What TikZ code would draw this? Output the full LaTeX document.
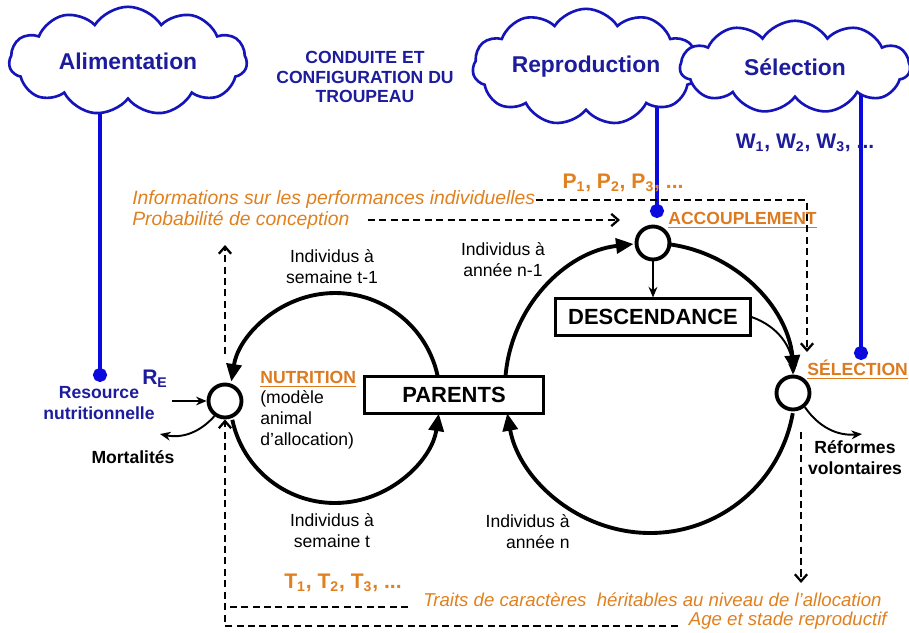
\documentclass[tikz,border=0pt]{standalone}
\usepackage{fontspec}
\setmainfont{Liberation Sans}
\usepackage{tikz}
\usetikzlibrary{arrows.meta,positioning,calc,shapes.symbols,backgrounds}
\definecolor{HerdBlue}{HTML}{1C1C9C}
\definecolor{CloudEdge}{HTML}{1414B8}
\definecolor{LinkBlue}{HTML}{0A0ADE}
\definecolor{InfoOrange}{HTML}{E0801E}
\definecolor{StageOrange}{HTML}{DC7A20}

\begin{document}
\begin{tikzpicture}[x=0.02cm, y=-0.02cm,
  cloudbox/.style={cloud, cloud puffs=11, cloud puff arc=115, aspect=2.4,
                   draw=CloudEdge, line width=1.5pt, fill=white, text=HerdBlue,
                   font=\fontsize{13}{15}\selectfont\bfseries,
                   minimum width=#1, minimum height=1.85cm, inner sep=0pt},
  hub/.style={draw, circle, line width=2.2pt, minimum size=0.66cm, inner sep=0pt, fill=white},
  stock/.style={draw, line width=1.2pt, font=\fontsize{12.5}{14}\selectfont\bfseries,
                minimum height=0.74cm, inner sep=0pt},
  loopflow/.style={line width=2.2pt, -{Triangle[length=10pt,width=8.5pt]}},
  flow/.style={line width=1.1pt, -{Stealth[length=6pt,width=5pt]}},
  info/.style={line width=1.3pt, dash pattern=on 4pt off 2.5pt},
  infoarr/.style={info, -{Straight Barb[length=4pt,width=7pt]}},
  link/.style={draw=LinkBlue, line width=1.8pt, -{Circle[length=8pt]}},
  lbl/.style={font=\fontsize{10}{12}\selectfont, align=center, inner sep=0pt},
  stage/.style={font=\fontsize{10}{12}\selectfont\bfseries, text=StageOrange,
                anchor=west, inner sep=0pt},
  note/.style={font=\fontsize{#1}{13}\selectfont\itshape, text=InfoOrange, inner sep=0pt},
  note/.default=11,
  idx/.style={font=\fontsize{12}{14}\selectfont\bfseries, inner sep=0pt}
]
  \useasboundingbox (0,0) rectangle (909,632);

  % Clouds
  \node[cloudbox=4.76cm] (alim)  at (128,61) {Alimentation};
  \node[cloudbox=4.54cm] (repro) at (586,67) {Reproduction};
  \node[cloudbox=4.6cm]  (selec) at (795,67) {Sélection};
  \node[font=\fontsize{10}{11.2}\selectfont\bfseries, text=HerdBlue, align=center]
    (herd) at (365,77) {CONDUITE ET\\CONFIGURATION DU\\TROUPEAU};

  % Cycle hubs and boxes
  \node[hub] (nut) at (225,401) {};
  \node[hub] (acc) at (653,243) {};
  \node[hub] (sel) at (793,393) {};
  \node[stock, minimum width=3.58cm] (parents) at (454,395) {PARENTS};
  \node[stock, minimum width=3.9cm]  (desc)    at (653,317) {DESCENDANCE};

  % Labels
  \node[stage] (nutlbl) at (260,379) {\underline{NUTRITION}};
  \node[stage] (acclbl) at (668,220) {\underline{ACCOUPLEMENT}};
  \node[stage] (sellbl) at (807,370) {\underline{SÉLECTION}};
  \node[lbl, anchor=north west, align=left] (nutmod) at (260,390) {(modèle\\animal\\d’allocation)};
  \node[lbl] (wkprev) at (332,267) {Individus à\\semaine t-1};
  \node[lbl] (wknow)  at (332,531) {Individus à\\semaine t};
  \node[lbl] (yrprev) at (503,260) {Individus à\\année n-1};
  \node[lbl, anchor=east, align=right] (yrnow) at (570,532) {Individus à\\année n};
  \node[idx, text=HerdBlue] (re) at (155,379) {R\textsubscript{E}};
  \node[lbl, font=\fontsize{10}{12}\selectfont\bfseries, text=HerdBlue] (res) at (99,403) {Resource\\nutritionnelle};
  \node[lbl, font=\fontsize{10}{12}\selectfont\bfseries] (mort) at (133,457) {Mortalités};
  \node[lbl, font=\fontsize{10}{12}\selectfont\bfseries] (refo) at (855,458) {Réformes\\volontaires};

  % Parameter lists
  \node[idx, text=HerdBlue]   (wlist) at (805,143) {W\textsubscript{1}, W\textsubscript{2}, W\textsubscript{3}, ...};
  \node[idx, text=InfoOrange] (plist) at (623,183) {P\textsubscript{1}, P\textsubscript{2}, P\textsubscript{3}, ...};
  \node[idx, text=InfoOrange] (tlist) at (343,583) {T\textsubscript{1}, T\textsubscript{2}, T\textsubscript{3}, ...};

  % Information texts
  \node[note, anchor=west] (perf)   at (132,200) {Informations sur les performances individuelles};
  \node[note, anchor=west] (concep) at (132,220) {Probabilité de conception};
  \node[note=10.6, anchor=west] (traits) at (423,600) {Traits de caractères\ \ héritables au niveau de l’allocation};
  \node[note=10.6, anchor=east] (age)    at (887,621) {Age et stade reproductif};

  % Blue links from the clouds
  \coordinate (alimdot)  at (100,382);
  \coordinate (reprodot) at (657,218);
  \coordinate (selecdot) at (861,360);
  \begin{scope}[on background layer]
    \draw[link] (alimdot |- alim.center) -- (alimdot);
    \draw[link] (reprodot |- repro.center) -- (reprodot);
    \draw[link] (selecdot |- selec.center) -- (selecdot);
  \end{scope}

  % Weekly cycle
  \coordinate (wk) at (335,398);
  \draw[loopflow] ($(wk)+(11.5:2.1cm)$) arc[start angle=11.5, end angle=171, radius=2.1cm];
  \draw[loopflow] ($(wk)+(192:2.1cm)$) arc[start angle=192, end angle=351.5, radius=2.1cm];

  % Yearly cycle
  \coordinate (yr) at (650,388);
  \draw[loopflow] ($(yr)+(175.6:2.9cm)$) arc[start angle=175.6, end angle=96.5, radius=2.9cm];
  \draw[loopflow] ($(yr)+(83:2.9cm)$) arc[start angle=83, end angle=6, radius=2.9cm];
  \draw[loopflow] ($(yr)+(-10:2.9cm)$) arc[start angle=-10, end angle=-170, radius=2.9cm];

  % Thin flows
  \coordinate (rein)    at (172,401);
  \coordinate (mortout) at (160,434);
  \coordinate (refout)  at (862,434);
  \draw[flow] (rein) -- (nut);
  \draw[flow] (nut.235) to[bend left=30] (mortout);
  \draw[flow] (acc) -- (desc);
  \draw[flow] (desc.east) to[bend left=35] (sel.north);
  \draw[flow] (sel.-50) to[bend right=30] (refout);

  % Information flows
  \coordinate (selin)     at (807,352);
  \coordinate (accin)     at (620,220);
  \coordinate (nutup)     at (225,245);
  \coordinate (traitdown) at (801,583);
  \draw[infoarr] (perf.east) -| (selin);
  \draw[infoarr, shorten <=0.36cm] (concep.east) -- (accin);
  \draw[infoarr, shorten <=0.58cm] (nut.north) -- (nutup);
  \draw[infoarr, shorten <=0.42cm] (sel.south -| traitdown) -- (traitdown);
  \draw[info, shorten <=0.3cm] (traits.base west) -- (traits.base west -| nut.south);
  \draw[infoarr, shorten <=0.22cm] (age.base west) -| (nut.south);
\end{tikzpicture}
\end{document}
